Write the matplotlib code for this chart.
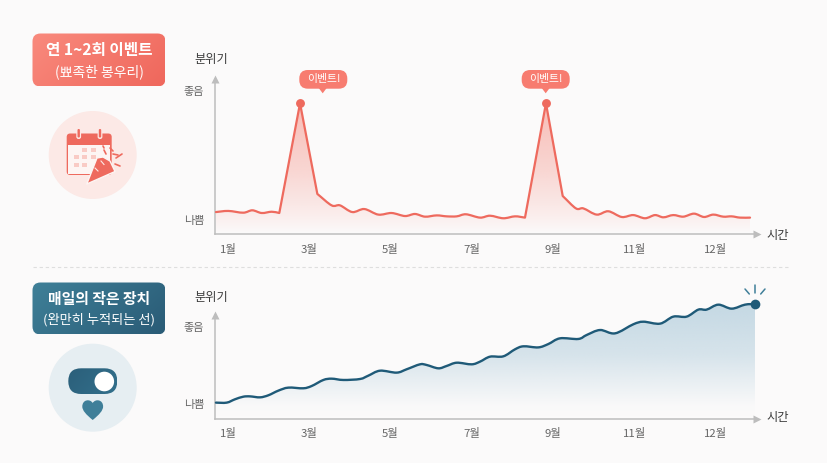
import numpy as np
import matplotlib
matplotlib.use('Agg')
import matplotlib.pyplot as plt
from matplotlib.path import Path
from matplotlib.patches import PathPatch, FancyBboxPatch, Circle, Rectangle, Polygon
from matplotlib.colors import to_rgb

plt.rcParams['font.family'] = ['Noto Sans CJK KR', 'DejaVu Sans']

W, H = 828, 463
BG = '#fbfafa'
AXIS = '#bdbdbd'

month_labels = ['1월', '3월', '5월', '7월', '9월', '11월', '12월']
month_ticks = [0, 1, 2, 3, 4, 5, 6]

event_x = [-0.148, 0.004, 0.188, 0.299, 0.414, 0.537, 0.631, 0.886, 1.099, 1.275, 1.378, 1.529,
           1.677, 1.849, 2.013, 2.177, 2.300, 2.423, 2.567, 2.690, 2.813, 2.927, 3.100, 3.223,
           3.386, 3.530, 3.653, 3.911, 4.117, 4.280, 4.371, 4.535, 4.678, 4.843, 4.985, 5.129,
           5.252, 5.355, 5.477, 5.600, 5.732, 5.855, 5.969, 6.092, 6.195, 6.298, 6.421]
event_mood = [13.8, 14.5, 13.4, 14.9, 13.2, 14.0, 13.2, 82.2, 25.2, 18.0, 18.0, 13.8,
              15.7, 12.2, 13.2, 11.3, 12.6, 10.9, 11.7, 11.1, 11.1, 12.4, 10.3, 11.5,
              9.9, 11.1, 10.3, 82.2, 23.9, 16.1, 16.1, 12.2, 14.3, 10.7, 11.9, 9.9,
              11.9, 10.5, 11.9, 10.9, 12.8, 10.7, 12.2, 10.9, 11.1, 10.3, 10.3]
event_corners = [6, 7, 8, 26, 27, 28]
event_peaks = [7, 27]

daily_x = [-0.148, -0.016, 0.086, 0.188, 0.271, 0.394, 0.496, 0.619, 0.742, 0.927, 1.029, 1.173,
           1.275, 1.419, 1.624, 1.726, 1.870, 2.074, 2.197, 2.361, 2.443, 2.587, 2.690, 2.813,
           2.997, 3.100, 3.223, 3.386, 3.530, 3.633, 3.817, 3.940, 4.084, 4.309, 4.412,
           4.576, 4.760, 4.985, 5.109, 5.314, 5.477, 5.641, 5.785, 5.887, 6.031, 6.195, 6.359, 6.482]
daily_mood = [14.8, 14.8, 17.9, 20.3, 20.6, 19.7, 21.6, 25.9, 28.7, 28.1, 30.2, 35.8,
              37.0, 35.8, 36.7, 39.8, 44.4, 42.6, 45.7, 50.3, 49.7, 46.6, 48.8, 51.8,
              50.3, 52.8, 57.4, 57.7, 64.2, 67.0, 66.0, 69.1, 74.4, 73.8, 77.5,
              82.1, 79.0, 87.4, 89.8, 88.0, 94.5, 94.5, 101.0, 101.0, 105.6, 101.9, 105.6, 106.2]


def smooth_path(xs, ys, corners=()):
    # cubic segments through the points, with hard corners where asked
    xs = np.array(xs)
    ys = np.array(ys)
    n = len(xs)
    verts = [(xs[0], ys[0])]
    codes = [Path.MOVETO]
    for i in range(n - 1):
        p0 = np.array([xs[max(i - 1, 0)], ys[max(i - 1, 0)]])
        p1 = np.array([xs[i], ys[i]])
        p2 = np.array([xs[i + 1], ys[i + 1]])
        p3 = np.array([xs[min(i + 2, n - 1)], ys[min(i + 2, n - 1)]])
        c1 = p1 + (p2 - p0) / 6
        c2 = p2 - (p3 - p1) / 6
        if i in corners:
            c1 = p1 + (p2 - p1) / 3
        if i + 1 in corners:
            c2 = p2 - (p2 - p1) / 3
        verts += [tuple(c1), tuple(c2), tuple(p2)]
        codes += [Path.CURVE4] * 3
    return verts, codes


def vertical_fade(ax, verts, codes, color, stops_y, stops_a, ymax):
    # area under the curve, filled with a colour that fades towards the axis
    xs = [v[0] for v in verts]
    area = Path(verts + [(xs[-1], 0), (xs[0], 0), (xs[0], verts[0][1])],
                codes + [Path.LINETO] * 3)
    grid = np.linspace(0, ymax, 256)
    img = np.zeros((256, 2, 4))
    img[:, :, :3] = to_rgb(color)
    img[:, :, 3] = np.interp(grid, stops_y, stops_a)[:, None]
    im = ax.imshow(img, origin='lower', extent=(xs[0], xs[-1], 0, ymax), aspect='auto',
                   interpolation='bilinear', zorder=1)
    clip = PathPatch(area, transform=ax.transData, facecolor='none', edgecolor='none')
    ax.add_patch(clip)
    im.set_clip_path(clip)


def chart_axes(top, bottom, px_per_unit, arrow_y, good, bad):
    # the frame runs higher than the y axis arrow so the area can pass it
    left, right = 215.5, 757
    ax = fig.add_axes([left / W, 1 - bottom / H, (right - left) / W, (bottom - top) / H])
    ax.patch.set_alpha(0)
    for side in ['top', 'right']:
        ax.spines[side].set_visible(False)
    for side in ['left', 'bottom']:
        ax.spines[side].set_color(AXIS)
        ax.spines[side].set_linewidth(1.1)
    ax.spines['left'].set_bounds(0, arrow_y)
    ax.set_xticks(month_ticks, month_labels)
    ax.set_yticks([good, bad], ['좋음', '나쁨'])
    ax.tick_params(axis='x', length=0, pad=7, labelsize=8.2, labelcolor='#666666')
    ax.tick_params(axis='y', length=0, pad=8, labelsize=8, labelcolor='#666666')
    ax.plot((left - 228) / 81.3, arrow_y, '^', color=AXIS, ms=6, mec='none', clip_on=False)
    ax.plot((right - 228) / 81.3, 0, '>', color=AXIS, ms=6, mec='none', clip_on=False)
    return ax, (left - 228) / 81.3, (right - 228) / 81.3, (bottom - top) / px_per_unit


def gradient_badge(x0, y0, x1, y1, radius, c0, c1):
    # rounded box with a diagonal colour blend
    box = FancyBboxPatch((x0 + radius, y0 + radius), x1 - x0 - 2 * radius, y1 - y0 - 2 * radius,
                         boxstyle='round,pad=%f,rounding_size=%f' % (radius, radius),
                         facecolor='none', edgecolor='none')
    bg.add_patch(box)
    u, v = np.meshgrid(np.linspace(0, 1, 120), np.linspace(0, 1, 60))
    t = (0.7 * u + 0.3 * v)[:, :, None]
    img = np.array(to_rgb(c0)) * (1 - t) + np.array(to_rgb(c1)) * t
    im = bg.imshow(img, extent=(x0, x1, y1, y0), aspect='auto', zorder=2)
    im.set_clip_path(box)


def round_box(x0, y0, x1, y1, radius, color, z=3):
    bg.add_patch(FancyBboxPatch((x0 + radius, y0 + radius), x1 - x0 - 2 * radius, y1 - y0 - 2 * radius,
                                boxstyle='round,pad=%f,rounding_size=%f' % (radius, radius),
                                facecolor=color, edgecolor='none', zorder=z))


fig = plt.figure(figsize=(W / 100, H / 100), dpi=100, facecolor=BG)
bg = fig.add_axes([0, 0, 1, 1])
bg.axis('off')

# left column: badges and icons
gradient_badge(32.5, 33.5, 165.5, 86.5, 8, '#f98a7d', '#ef675c')
bg.text(99, 50, '연 1~2회 이벤트', color='white', fontsize=11.3, fontweight='bold', ha='center', va='center', zorder=4)
bg.text(99, 71.5, '(뾰족한 봉우리)', color='white', fontsize=10, fontweight='medium', ha='center', va='center', zorder=4)

gradient_badge(32.5, 282.5, 165.5, 334.5, 8, '#3f8098', '#2a5b76')
bg.text(99, 299, '매일의 작은 장치', color='white', fontsize=10.7, fontweight='bold', ha='center', va='center', zorder=4)
bg.text(99, 320, '(완만히 누적되는 선)', color='white', fontsize=9.5, fontweight='medium', ha='center', va='center', zorder=4)

bg.add_patch(Circle((92.7, 155), 44, facecolor='#fce9e6', edgecolor='none', zorder=2))
bg.add_patch(Circle((92.7, 387.7), 44, facecolor='#e6eef2', edgecolor='none', zorder=2))

# calendar
round_box(66.7, 133.5, 111.7, 175, 3.5, '#ee6a5e')
bg.add_patch(Rectangle((68, 145), 42.4, 28.6, facecolor='#fdf5f3', edgecolor='none', zorder=3))
for rx in [78.7, 100]:
    round_box(rx - 2.4, 127.5, rx + 2.4, 139, 2.2, '#fce9e6', z=4)
    round_box(rx - 1.2, 129, rx + 1.2, 137.5, 1.1, '#ee6a5e', z=5)
cal_cells = [(82, 148), (91, 148), (74, 155), (82, 155), (91, 155), (74, 163), (82, 163)]
for cx, cy in cal_cells:
    bg.add_patch(Rectangle((cx, cy), 5, 4, facecolor='#f9cbc5', edgecolor='none', zorder=4))

# party popper
cone = Polygon([(86.8, 184), (97, 158), (103, 157), (110, 161), (115, 171.5)], closed=True,
               facecolor='#ee6a5e', edgecolor='#fdf5f3', linewidth=1.0, joinstyle='round', zorder=6)
bg.add_patch(cone)
for a, b in [((95, 168), (98, 171)), ((101, 161), (104, 164.5))]:
    bg.plot(*zip(a, b), color='#fce9e6', lw=0.8, zorder=7)
confetti = [((104, 150), (106, 154)), ((110, 148), (113, 151)), ((113, 154), (118, 155)),
            ((116, 158), (122, 154)), ((115, 164), (120, 166)), ((103, 146), (104, 148))]
for a, b in confetti:
    bg.plot(*zip(a, b), color='#ee6a5e', lw=1.2, solid_capstyle='round', zorder=5)

# toggle and heart
gradient_badge(68.3, 368.3, 117.3, 394, 12.8, '#2b5f7a', '#33708c')
bg.add_patch(Circle((104.3, 381.5), 9.8, facecolor='white', edgecolor='none', zorder=5))
heart_verts = [(92.7, 420), (86, 414.5), (82.3, 410.5), (82.3, 406.5), (82.3, 399.5), (90, 398.5), (92.7, 403),
               (95.4, 398.5), (103.1, 399.5), (103.1, 406.5), (103.1, 410.5), (99.4, 414.5), (92.7, 420)]
heart_codes = [Path.MOVETO] + [Path.CURVE4] * 12
bg.add_patch(PathPatch(Path(heart_verts, heart_codes), facecolor='#3f7f99', edgecolor='none', zorder=4))

# divider between the two rows
bg.plot([33, 788], [266.5, 266.5], color='#dedede', lw=0.8, ls=(0, (3, 2.5)), zorder=1)

bg.text(211, 60, '분위기', color='#3b3b3b', fontsize=8.8, fontweight='medium', ha='center', va='center')
bg.text(211, 297, '분위기', color='#3b3b3b', fontsize=8.8, fontweight='medium', ha='center', va='center')
bg.text(778, 235, '시간', color='#3b3b3b', fontsize=8.8, fontweight='medium', ha='center', va='center')
bg.text(778, 418, '시간', color='#3b3b3b', fontsize=8.8, fontweight='medium', ha='center', va='center')

# event speech bubbles
for left, tip in [(299.3, 322.7), (521.7, 545.7)]:
    round_box(left, 70, left + 48, 88.7, 8.5, '#f77c70')
    bg.add_patch(Polygon([(tip - 4, 88), (tip + 4, 88), (tip, 93.3)], closed=True, facecolor='#f77c70',
                         edgecolor='none', zorder=3))
    bg.text(left + 24, 79, '이벤트!', color='white', fontsize=7.8, ha='center', va='center', zorder=4)

# sparks above the end of the slow line
for a, b in [((755, 285), (755, 292.7)), ((745, 289), (749.3, 294)), ((765, 289), (760.7, 294))]:
    bg.plot(*zip(a, b), color='#3f7f99', lw=1.1, solid_capstyle='round', zorder=3)

bg.set_xlim(0, W)
bg.set_ylim(H, 0)

# top chart: two sharp peaks
ax1, x0, x1, ytop = chart_axes(79, 234, 1.59, 97.5, 90, 8.8)
verts, codes = smooth_path(event_x, event_mood, event_corners)
vertical_fade(ax1, verts, codes, '#f4796c', [0, 12, 40, 82], [0.0, 0.1, 0.28, 0.48], 97.5)
ax1.add_patch(PathPatch(Path(verts, codes), facecolor='none', edgecolor='#ee6a5e', lw=1.6,
                        capstyle='round', joinstyle='round', zorder=3))
peak_x = [event_x[i] for i in event_peaks]
peak_y = [event_mood[i] for i in event_peaks]
ax1.plot(peak_x, peak_y, 'o', color='#ee6a5e', ms=6.4, mec='none', zorder=4, clip_on=False)
ax1.set_xlim(x0, x1)
ax1.set_ylim(0, ytop)

# bottom chart: slow climb
ax2, x0, x1, ytop = chart_axes(298, 418.6, 1.079, 96, 85, 13.5)
verts, codes = smooth_path(daily_x, daily_mood)
vertical_fade(ax2, verts, codes, '#a3c4d6', [0, 12, 60, 106.2], [0.0, 0.02, 0.42, 0.62], 106.2)
ax2.add_patch(PathPatch(Path(verts, codes), facecolor='none', edgecolor='#1f5a78', lw=1.7,
                        capstyle='round', joinstyle='round', zorder=3, clip_on=False))
ax2.plot(daily_x[-1], daily_mood[-1], 'o', color='#1f5a78', ms=7, mec='none', zorder=4, clip_on=False)
ax2.set_xlim(x0, x1)
ax2.set_ylim(0, ytop)

fig.savefig('out.png', dpi=100, facecolor=BG)
